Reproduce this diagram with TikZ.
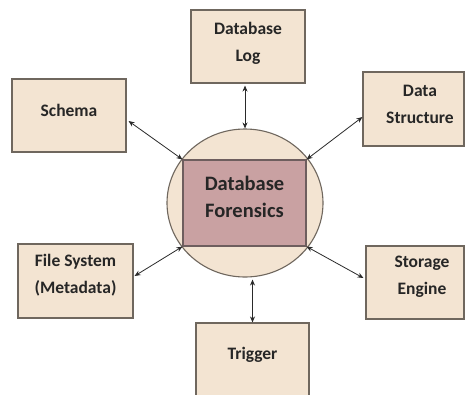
\documentclass[tikz,border=0pt]{standalone}
\usepackage{fontspec}
\setmainfont{Carlito}
\usetikzlibrary{calc,arrows.meta,shapes.geometric}
\definecolor{boxfill}{HTML}{F3E4D2}
\definecolor{boxdraw}{HTML}{6F675E}
\definecolor{corefill}{HTML}{C9A1A2}
\definecolor{coredraw}{HTML}{6E5E5E}
\definecolor{txt}{HTML}{262626}
\definecolor{arr}{HTML}{2A2A2A}
\begin{document}
\begin{tikzpicture}[x=1pt,y=-1pt,
  boxnode/.style={draw=boxdraw,fill=boxfill,line width=1.1pt,minimum width=114pt,minimum height=73pt,inner sep=0pt},
  lbl/.style={font=\fontsize{17.5}{27}\selectfont\bfseries,text=txt,align=center,yshift=5pt,inner sep=0pt},
  corelbl/.style={font=\fontsize{20.5}{27}\selectfont\bfseries,text=txt,align=center,yshift=6.5pt,inner sep=0pt},
  link/.style={draw=arr,line width=0.8pt,{Stealth[length=6pt,width=5pt]}-{Stealth[length=6pt,width=5pt]}}]
\useasboundingbox[fill=white] (0,0) rectangle (465,394);
% centre
\node[ellipse,draw=boxdraw,fill=boxfill,line width=1.1pt,minimum width=156pt,minimum height=148pt,inner sep=0pt] (circ) at (245,203) {};
\node[draw=coredraw,fill=corefill,line width=1.1pt,minimum width=123pt,minimum height=86pt,inner sep=0pt,
  label={[corelbl]center:Database\\Forensics}] (core) at (244.5,203) {};
% boxes
\node[boxnode,label={[lbl,yshift=-1.5pt]center:Database\\Log}] (log) at (248,46.5) {};
\node[boxnode,label={[lbl]center:Schema}] (schema) at (69,115.5) {};
\node[boxnode,minimum width=101pt,minimum height=74pt,label={[lbl,xshift=6.5pt]center:Data\\Structure}] (ds) at (413.5,109) {};
\node[boxnode,minimum width=115pt,minimum height=74pt,label={[lbl,yshift=1pt]center:File System\\(Metadata)}] (fs) at (75.5,281) {};
\node[boxnode,minimum width=98pt,label={[lbl,xshift=7pt,yshift=1pt]center:Storage\\Engine}] (se) at (415,282.5) {};
\node[boxnode,minimum width=113pt,label={[lbl]center:Trigger}] (trig) at (252.5,359.5) {};
% connectors
\draw[link] ([yshift=-2pt]circ.north |- log.south) -- (circ.north);
\draw[link] ([shift={(2,5.5)}]schema.east) -- (core.north west);
\draw[link] (core.north east) -- ([shift={(0,8)}]ds.west);
\draw[link] ([shift={(1,-5)}]fs.east) -- (core.south west);
\draw[link] (core.south east) -- ([shift={(-2,-4.5)}]se.west);
\draw[link] ([yshift=-2pt]circ.south -| trig.north) -- (trig.north);
\end{tikzpicture}
\end{document}
